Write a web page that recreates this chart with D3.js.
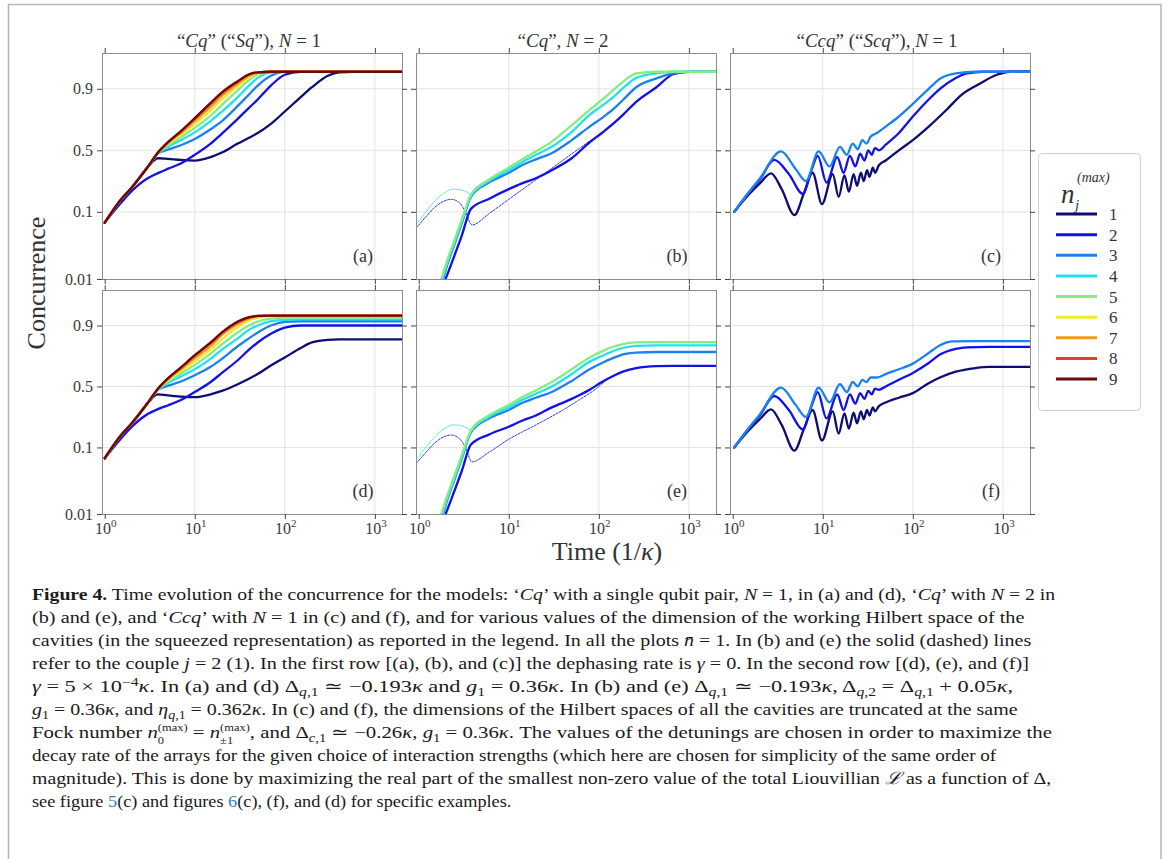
<!DOCTYPE html>
<html><head><meta charset="utf-8">
<script src="https://cdn.jsdelivr.net/npm/d3@7"></script>
<style>body{margin:0;background:#fff}svg{display:block}</style>
</head><body>
<svg id="chart" width="1168" height="859"></svg>
<script>
// ---------------- DATA ----------------
const legendLabels = ["1","2","3","4","5","6","7","8","9"];
const seriesColors = ["#0c0c72","#1212e6","#1a82f0","#22e2ea","#84ec84","#ecec30","#f49a1c","#ec3c2c","#6c0a0a"];
const xTickValues = [1, 10, 100, 1000];
const xTickExponents = ["0","1","2","3"];
const yTickValues = [0.01, 0.1, 0.5, 0.9];
const yTickLabels = ["0.01","0.1","0.5","0.9"];
const panelLetters = ["(a)","(b)","(c)","(d)","(e)","(f)"];

// Panel (a): Cq, N=1, gamma=0  (series n=1..9)
const timeA = [1,1.5,2,3,3.9,5,7,10,15,20,30,40,50,70,100,150,200,300,400,600,1000,2000];
const panelA = [
  [0.07,0.145,0.21,0.355,0.43,0.425,0.415,0.41,0.44,0.48,0.56,0.61,0.65,0.72,0.80,0.87,0.905,0.935,0.942,0.943,0.943,0.943],
  [0.07,0.131,0.19,0.27,0.307,0.34,0.385,0.46,0.56,0.645,0.755,0.82,0.86,0.91,0.937,0.943,0.943,0.943,0.943,0.943,0.943,0.943],
  [0.07,0.145,0.21,0.355,0.47,0.505,0.545,0.6,0.68,0.74,0.83,0.88,0.91,0.935,0.943,0.943,0.943,0.943,0.943,0.943,0.943,0.943],
  [0.07,0.145,0.21,0.355,0.472,0.53,0.59,0.655,0.74,0.8,0.87,0.91,0.93,0.942,0.943,0.943,0.943,0.943,0.943,0.943,0.943,0.943],
  [0.07,0.145,0.21,0.355,0.474,0.545,0.615,0.69,0.775,0.835,0.895,0.925,0.938,0.943,0.943,0.943,0.943,0.943,0.943,0.943,0.943,0.943],
  [0.07,0.145,0.21,0.355,0.476,0.555,0.635,0.72,0.805,0.86,0.908,0.931,0.94,0.943,0.943,0.943,0.943,0.943,0.943,0.943,0.943,0.943],
  [0.07,0.145,0.21,0.355,0.478,0.563,0.65,0.74,0.825,0.875,0.915,0.935,0.941,0.943,0.943,0.943,0.943,0.943,0.943,0.943,0.943,0.943],
  [0.07,0.145,0.21,0.355,0.48,0.568,0.66,0.755,0.84,0.884,0.92,0.937,0.942,0.943,0.943,0.943,0.943,0.943,0.943,0.943,0.943,0.943],
  [0.07,0.145,0.21,0.355,0.48,0.57,0.665,0.76,0.845,0.888,0.922,0.938,0.942,0.943,0.943,0.943,0.943,0.943,0.943,0.943,0.943,0.943]
];
// Panel (d): Cq, N=1, gamma=5e-4
const panelD = [
  [0.07,0.145,0.21,0.355,0.43,0.42,0.41,0.405,0.43,0.46,0.52,0.57,0.61,0.68,0.74,0.8,0.83,0.843,0.845,0.845,0.845,0.845],
  [0.07,0.131,0.19,0.27,0.307,0.335,0.38,0.45,0.54,0.62,0.72,0.79,0.83,0.87,0.893,0.9,0.9,0.9,0.9,0.9,0.9,0.9],
  [0.07,0.145,0.21,0.355,0.47,0.505,0.545,0.6,0.67,0.73,0.81,0.85,0.875,0.9,0.911,0.913,0.913,0.913,0.913,0.913,0.913,0.913],
  [0.07,0.145,0.21,0.355,0.472,0.53,0.59,0.65,0.73,0.79,0.85,0.885,0.9,0.913,0.917,0.918,0.918,0.918,0.918,0.918,0.918,0.918],
  [0.07,0.145,0.21,0.355,0.474,0.545,0.615,0.685,0.765,0.82,0.875,0.9,0.912,0.92,0.923,0.923,0.923,0.923,0.923,0.923,0.923,0.923],
  [0.07,0.145,0.21,0.355,0.476,0.555,0.635,0.715,0.79,0.845,0.895,0.915,0.922,0.927,0.928,0.928,0.928,0.928,0.928,0.928,0.928,0.928],
  [0.07,0.145,0.21,0.355,0.478,0.563,0.65,0.735,0.81,0.865,0.905,0.92,0.926,0.928,0.928,0.928,0.928,0.928,0.928,0.928,0.928,0.928],
  [0.07,0.145,0.21,0.355,0.48,0.568,0.66,0.75,0.825,0.872,0.91,0.923,0.927,0.928,0.928,0.928,0.928,0.928,0.928,0.928,0.928,0.928],
  [0.07,0.145,0.21,0.355,0.48,0.57,0.665,0.755,0.83,0.875,0.912,0.924,0.927,0.928,0.928,0.928,0.928,0.928,0.928,0.928,0.928,0.928]
];

// Panels (b),(e): Cq, N=2 -- solid lines (couple j=2), series n=2..5
const seriesB = [2,3,4,5];
const timeB = [1.7,2,2.5,3,3.8,6,10,14,20,30,50,79,108,150,185,260,436,667,1000,2000];
const panelB = [
  [0.006,0.0102,0.023,0.045,0.11,0.15,0.2,0.235,0.27,0.33,0.43,0.57,0.65,0.73,0.78,0.85,0.905,0.938,0.943,0.943],
  [0.006,0.014,0.034,0.068,0.16,0.24,0.31,0.37,0.42,0.474,0.59,0.70,0.76,0.82,0.858,0.905,0.929,0.94,0.943,0.943],
  [0.007,0.015,0.036,0.072,0.165,0.25,0.33,0.395,0.46,0.532,0.66,0.78,0.83,0.875,0.902,0.93,0.94,0.943,0.943,0.943],
  [0.008,0.0166,0.039,0.077,0.17,0.26,0.35,0.42,0.49,0.577,0.71,0.809,0.858,0.9,0.92,0.94,0.943,0.943,0.943,0.943]
];
const panelE = [
  [0.006,0.0102,0.023,0.045,0.11,0.15,0.19,0.225,0.26,0.32,0.39,0.47,0.54,0.6,0.63,0.66,0.675,0.677,0.677,0.677],
  [0.006,0.014,0.034,0.068,0.16,0.24,0.3,0.355,0.4,0.45,0.55,0.65,0.7,0.74,0.76,0.772,0.776,0.776,0.776,0.776],
  [0.007,0.015,0.036,0.072,0.165,0.25,0.32,0.38,0.435,0.5,0.61,0.71,0.75,0.785,0.8,0.812,0.815,0.815,0.815,0.815],
  [0.008,0.0166,0.039,0.077,0.17,0.26,0.34,0.405,0.465,0.54,0.65,0.74,0.78,0.81,0.822,0.83,0.832,0.832,0.832,0.832]
];
// dashed lines (couple j=1)
const timeDashUpper = [0.93,1.2,1.5,2,2.4,3,3.5,3.8];
const valDashUpper  = [0.065,0.1,0.14,0.185,0.2,0.195,0.18,0.168];
const timeDashLowerB = [0.93,1.2,1.5,1.9,2.3,2.8,3.3,3.9,6,10,20,40,60,93];
const valDashLowerB  = [0.058,0.085,0.115,0.14,0.148,0.135,0.1,0.065,0.094,0.148,0.259,0.413,0.514,0.62];
const timeDashLowerE = [0.93,1.2,1.5,1.9,2.3,2.8,3.3,3.9,6,10,20,40,60,90,120];
const valDashLowerE  = [0.058,0.085,0.115,0.14,0.148,0.135,0.1,0.062,0.085,0.13,0.2,0.3,0.38,0.47,0.556];

// Panels (c),(f): Ccq, N=1, series n=1..3
const timeC1 = [1.04,1.5,2,2.66,3.5,4.84,6.2,7.7,9.8,12.9,15,17.4,19.5,22,24,26.5,28.5,31,33,36,38,42,50,70,100,150,237,350,560,855,1200,2000];
const valC1  = [0.1,0.17,0.235,0.305,0.2,0.09,0.18,0.31,0.128,0.3,0.16,0.29,0.186,0.3,0.22,0.31,0.25,0.33,0.28,0.35,0.31,0.37,0.41,0.5,0.59,0.7,0.81,0.88,0.916,0.937,0.943,0.943];
const timeC2 = [1.04,1.5,2,2.89,4.2,6,7.5,8.8,11,14.5,17,20,23,26,29,32,35,38,42,50,70,100,150,200,300,400,600,2000];
const valC2  = [0.1,0.18,0.26,0.415,0.3,0.175,0.33,0.45,0.24,0.44,0.31,0.45,0.36,0.47,0.41,0.5,0.46,0.52,0.5,0.55,0.65,0.77,0.86,0.9,0.93,0.94,0.943,0.943];
const timeC3 = [1.04,1.5,2,3.44,5,6.5,9,11.9,15.5,18.5,21.5,24.5,27.5,30.5,34,40,50,70,100,150,200,300,500,2000];
const valC3  = [0.1,0.18,0.268,0.49,0.34,0.25,0.49,0.36,0.53,0.46,0.56,0.51,0.59,0.56,0.62,0.65,0.7,0.77,0.84,0.9,0.928,0.94,0.943,0.943];
const timeF1 = [1.04,1.5,2,2.66,3.5,4.84,6.2,7.7,9.8,12.9,15,17.4,19.5,22,24,26.5,28.5,31,33,36,38,42,50,70,100,150,200,300,500,700,2000];
const valF1  = [0.1,0.17,0.235,0.305,0.2,0.09,0.18,0.3,0.125,0.29,0.155,0.275,0.18,0.28,0.21,0.29,0.235,0.3,0.26,0.32,0.29,0.33,0.36,0.4,0.44,0.53,0.58,0.63,0.66,0.669,0.669];
const timeF2 = [1.04,1.5,2,2.89,4.2,6,7.5,8.8,11,14.5,17,20,23,26,29,32,35,38,42,50,70,100,150,200,300,400,700,2000];
const valF2  = [0.1,0.18,0.26,0.415,0.3,0.175,0.33,0.45,0.24,0.43,0.3,0.43,0.35,0.44,0.39,0.46,0.43,0.48,0.47,0.5,0.56,0.62,0.7,0.76,0.795,0.804,0.806,0.806];
const timeF3 = [1.04,1.5,2,3.44,5,6.5,9,11.9,15.5,18.5,21.5,24.5,27.5,30.5,34,40,50,70,100,150,200,282,500,2000];
const valF3  = [0.1,0.18,0.268,0.49,0.34,0.25,0.49,0.36,0.52,0.45,0.54,0.5,0.56,0.54,0.58,0.58,0.61,0.65,0.695,0.77,0.815,0.835,0.837,0.837];

const panelTitles = [
  [["“"],["Cq","i"],["”  (“"],["Sq","i"],["”), "],["N","i"],[" = 1"]],
  [["“"],["Cq","i"],["”, "],["N","i"],[" = 2"]],
  [["“"],["Ccq","i"],["”  (“"],["Scq","i"],["”), "],["N","i"],[" = 1"]]
];

const captionLines = [
  [["Figure 4.","b"],[" Time evolution of the concurrence for the models: ‘"],["Cq","i"],["’ with a single qubit pair, "],["N","i"],[" = 1, in (a) and (d), ‘"],["Cq","i"],["’ with "],["N","i"],[" = 2 in"]],
  [["(b) and (e), and ‘"],["Ccq","i"],["’ with "],["N","i"],[" = 1 in (c) and (f), and for various values of the dimension of the working Hilbert space of the"]],
  [["cavities (in the squeezed representation) as reported in the legend. In all the plots "],["n̄","i"],[" = 1. In (b) and (e) the solid (dashed) lines"]],
  [["refer to the couple "],["j","i"],[" = 2 (1). In the first row [(a), (b), and (c)] the dephasing rate is "],["γ","i"],[" = 0. In the second row [(d), (e), and (f)]"]],
  [["γ","i"],[" = 5 × 10"],["−4","sup"],["κ","i"],[". In (a) and (d) Δ"],["q","subi"],[",1","sub"],[" ≃ −0.193"],["κ","i"],[" and "],["g","i"],["1","sub"],[" = 0.36"],["κ","i"],[". In (b) and (e) Δ"],["q","subi"],[",1","sub"],[" ≃ −0.193"],["κ","i"],[", Δ"],["q","subi"],[",2","sub"],[" = Δ"],["q","subi"],[",1","sub"],[" + 0.05"],["κ","i"],[","]],
  [["g","i"],["1","sub"],[" = 0.36"],["κ","i"],[", and "],["η","i"],["q","subi"],[",1","sub"],[" = 0.362"],["κ","i"],[". In (c) and (f), the dimensions of the Hilbert spaces of all the cavities are truncated at the same"]],
  [["Fock number "],["n","i"],["(max)","supst"],["0","subback"],[" = "],["n","i"],["(max)","supst"],["±1","subback"],[", and Δ"],["c","subi"],[",1","sub"],[" ≃ −0.26"],["κ","i"],[", "],["g","i"],["1","sub"],[" = 0.36"],["κ","i"],[". The values of the detunings are chosen in order to maximize the"]],
  [["decay rate of the arrays for the given choice of interaction strengths (which here are chosen for simplicity of the same order of"]],
  [["magnitude). This is done by maximizing the real part of the smallest non-zero value of the total Liouvillian "],["ℒ","i"],[" as a function of Δ,"]],
  [["see figure "],["5","link"],["(c) and figures "],["6","link"],["(c), (f), and (d) for specific examples."]]
];
const captionRightEdges = [1057,1025,1032,1030,1012,1018,1052,997,1052,512];

// ---------------- LAYOUT ----------------
const SERIF = "'Liberation Serif','Times New Roman',serif";
const W = 300, colX = [102,416,730], rowY = [53,290], rowH = [226,224];
const xDomain = [0.933, 2000], yDomain = [0.01, 0.97];
const gridColor = "#e3e3e3", spineColor = "#8c8c8c", tickColor = "#444", labelColor = "#3a3a3a";
const logit = p => Math.log(p / (1 - p));

const svg = d3.select("#chart");
svg.append("rect").attr("width",1168).attr("height",859).attr("fill","#fff");
svg.append("path").attr("d","M8.5,859 V4.5 H1161 V859").attr("fill","none").attr("stroke","#b8b8b8").attr("stroke-width",1.6);

function addRich(text, segs, size) {
  let shift = 0, last = null, pendingDx = 0;
  segs.forEach(([s, st]) => {
    let target = 0, fs = size;
    if (st === "sup") { target = -0.36 * size; fs = size * 0.7; }
    if (st === "supst") { target = -0.42 * size; fs = size * 0.6; }
    if (st === "sub" || st === "subi") { target = 0.26 * size; fs = size * 0.7; }
    if (st === "subback") { target = 0.34 * size; fs = size * 0.6; }
    const t = text.append("tspan").text(s).attr("font-size", fs);
    if (target - shift !== 0) t.attr("dy", target - shift);
    shift = target;
    if (st === "i" || st === "subi") t.attr("font-style", "italic");
    if (st === "b") t.attr("font-weight", "bold");
    if (st === "link") t.attr("fill", "#2f7fc1");
    if (st === "subback" && last) {
      const supW = last.getComputedTextLength();
      t.attr("dx", -supW);
      const subW = t.node().getComputedTextLength();
      last = t.node();
      pendingDx = Math.max(0, supW - subW);
      return;
    }
    if (pendingDx > 0) { t.attr("dx", pendingDx); pendingDx = 0; }
    last = t.node();
  });
}

function drawPanel(col, row, letter, series) {
  const x = d3.scaleLog().domain(xDomain).range([colX[col], colX[col] + W]);
  const yl = d3.scaleLinear().domain(yDomain.map(logit)).range([rowY[row] + rowH[row], rowY[row]]);
  const y = v => yl(logit(v));
  const x0 = colX[col], x1 = x0 + W, y0 = rowY[row], y1 = y0 + rowH[row];
  const g = svg.append("g");

  g.selectAll(null).data(xTickValues.slice(1)).join("line")
    .attr("x1", d => x(d)).attr("x2", d => x(d)).attr("y1", y0).attr("y2", y1)
    .attr("stroke", gridColor).attr("stroke-width", 1);
  g.selectAll(null).data(yTickValues.slice(1)).join("line")
    .attr("x1", x0).attr("x2", x1).attr("y1", d => y(d)).attr("y2", d => y(d))
    .attr("stroke", gridColor).attr("stroke-width", 1);

  const cid = "clip" + col + row;
  svg.append("clipPath").attr("id", cid).append("rect")
    .attr("x", x0).attr("y", y0).attr("width", W).attr("height", rowH[row]);
  const lineGen = d3.line().x(d => x(d[0])).y(d => y(d[1])).curve(d3.curveMonotoneX);
  const cg = g.append("g").attr("clip-path", `url(#${cid})`);
  series.forEach(s => {
    cg.append("path").attr("d", lineGen(d3.zip(s.t, s.v)))
      .attr("fill", "none").attr("stroke", seriesColors[s.n - 1])
      .attr("stroke-width", s.dashed ? 1 : 2.3)
      .attr("stroke-dasharray", s.dashed ? "2.2,1.4" : null)
      .attr("stroke-linejoin", "round").attr("stroke-linecap", "round")
      .attr("opacity", s.dashed ? 0.85 : 1);
  });

  g.append("rect").attr("x", x0 + 0.5).attr("y", y0 + 0.5).attr("width", W).attr("height", rowH[row])
    .attr("fill", "none").attr("stroke", spineColor).attr("stroke-width", 1);

  const styleAxis = sel => { sel.select(".domain").remove(); sel.selectAll("line").attr("stroke", tickColor); };
  g.append("g").attr("transform", `translate(0,${y1})`).call(d3.axisBottom(x).tickValues(xTickValues).tickFormat("").tickSize(5)).call(styleAxis);
  g.append("g").attr("transform", `translate(0,${y0})`).call(d3.axisTop(x).tickValues(xTickValues).tickFormat("").tickSize(5)).call(styleAxis);
  g.append("g").attr("transform", `translate(${x0},0)`).call(d3.axisLeft(yl).tickValues(yTickValues.map(logit)).tickFormat("").tickSize(5)).call(styleAxis);
  g.append("g").attr("transform", `translate(${x1},0)`).call(d3.axisRight(yl).tickValues(yTickValues.map(logit)).tickFormat("").tickSize(5)).call(styleAxis);

  if (col === 0) {
    g.selectAll(null).data(yTickValues).join("text")
      .attr("x", x0 - 9).attr("y", d => y(d) + 5.5).attr("text-anchor", "end")
      .attr("font-family", SERIF).attr("font-size", 16).attr("fill", labelColor)
      .text((d, i) => yTickLabels[i]);
  }
  if (row === 1) {
    xTickValues.forEach((d, i) => {
      const t = g.append("text").attr("x", x(d) + 1).attr("y", y1 + 20).attr("text-anchor", "middle")
        .attr("font-family", SERIF).attr("font-size", 16).attr("fill", labelColor);
      t.append("tspan").text("10");
      t.append("tspan").text(xTickExponents[i]).attr("font-size", 11).attr("dy", -7);
    });
  }
  if (row === 0) {
    const t = g.append("text").attr("x", x0 + W / 2 - 3).attr("y", 47).attr("text-anchor", "middle")
      .attr("font-family", SERIF).attr("font-size", 19).attr("fill", "#333");
    addRich(t, panelTitles[col], 19);
  }
  g.append("text").attr("x", x1 - 39).attr("y", y1 - 17).attr("text-anchor", "middle")
    .attr("font-family", SERIF).attr("font-size", 18).attr("fill", "#333").text(letter);
}

// build series tables from the arrays
const sA = panelA.map((v, i) => ({n: i + 1, t: timeA, v}));
const sD = panelD.map((v, i) => ({n: i + 1, t: timeA, v}));
const sB = [{n: 4, t: timeDashUpper, v: valDashUpper, dashed: true}, {n: 2, t: timeDashLowerB, v: valDashLowerB, dashed: true}]
  .concat(panelB.map((v, i) => ({n: seriesB[i], t: timeB, v})));
const sE = [{n: 4, t: timeDashUpper, v: valDashUpper, dashed: true}, {n: 2, t: timeDashLowerE, v: valDashLowerE, dashed: true}]
  .concat(panelE.map((v, i) => ({n: seriesB[i], t: timeB, v})));
const sC = [{n: 1, t: timeC1, v: valC1}, {n: 2, t: timeC2, v: valC2}, {n: 3, t: timeC3, v: valC3}];
const sF = [{n: 1, t: timeF1, v: valF1}, {n: 2, t: timeF2, v: valF2}, {n: 3, t: timeF3, v: valF3}];

drawPanel(0, 0, panelLetters[0], sA);
drawPanel(1, 0, panelLetters[1], sB);
drawPanel(2, 0, panelLetters[2], sC);
drawPanel(0, 1, panelLetters[3], sD);
drawPanel(1, 1, panelLetters[4], sE);
drawPanel(2, 1, panelLetters[5], sF);

// axis titles
svg.append("text").attr("transform", "translate(45,283) rotate(-90)").attr("text-anchor", "middle")
  .attr("font-family", SERIF).attr("font-size", 26).attr("fill", "#333").text("Concurrence");
{
  const t = svg.append("text").attr("x", 607).attr("y", 560).attr("text-anchor", "middle")
    .attr("font-family", SERIF).attr("font-size", 26).attr("fill", "#333");
  addRich(t, [["Time (1/"], ["κ", "i"], [")"]], 26);
}

// legend
svg.append("rect").attr("x", 1038.5).attr("y", 153.5).attr("width", 102).attr("height", 257).attr("rx", 4)
  .attr("fill", "#fff").attr("stroke", "#cfcfcf");
svg.append("text").attr("x", 1061).attr("y", 203).attr("font-family", SERIF).attr("font-size", 27)
  .attr("font-style", "italic").attr("fill", "#333").text("n");
svg.append("text").attr("x", 1077).attr("y", 182).attr("font-family", SERIF).attr("font-size", 14)
  .attr("font-style", "italic").attr("fill", "#333").text("(max)");
svg.append("text").attr("x", 1075).attr("y", 210).attr("font-family", SERIF).attr("font-size", 15)
  .attr("font-style", "italic").attr("fill", "#333").text("j");
const legY = d3.scaleLinear().domain([0, 8]).range([214, 379]);
const leg = svg.append("g").selectAll("g").data(legendLabels).join("g")
  .attr("transform", (d, i) => `translate(0,${legY(i)})`);
leg.append("line").attr("x1", 1056).attr("x2", 1097).attr("stroke", (d, i) => seriesColors[i]).attr("stroke-width", 3);
leg.append("text").attr("x", 1109).attr("y", 6).attr("font-family", SERIF).attr("font-size", 17)
  .attr("fill", "#333").text(d => d);

// caption
captionLines.forEach((segs, i) => {
  const t = svg.append("text").attr("x", 32).attr("y", 600 + 23 * i)
    .attr("font-family", SERIF).attr("font-size", 17).attr("fill", "#1a1a1a");
  addRich(t, segs, 17);
  const bb = t.node().getBBox();
  const k = (captionRightEdges[i] - 32) / (bb.x + bb.width - 32);
  t.attr("transform", `translate(32,0) scale(${k},1) translate(-32,0)`);
});
</script>
</body></html>
